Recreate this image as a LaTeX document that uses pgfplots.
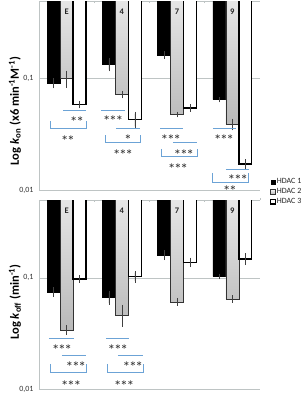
\documentclass[border=0pt]{standalone}
\usepackage{fontspec}
\setmainfont{Carlito}
\usepackage{pgfplots}
\pgfplotsset{compat=1.18}
\pgfplotsset{
  /pgfplots/ybar legend/.style={
    /pgfplots/legend image code/.code={\draw[##1,/tikz/.cd] (0pt,-2.2pt) rectangle (4.4pt,2.2pt);},
  },
}
\definecolor{sigblue}{RGB}{108,163,214}
\definecolor{axgray}{RGB}{190,196,196}
\newcommand{\one}{${\ast}$}
\newcommand{\two}{${\ast}\kern0.6pt{\ast}$}
\newcommand{\three}{${\ast}\kern0.6pt{\ast}\kern0.6pt{\ast}$}
\newcommand{\hl}[3]{\draw[sigline] (rel axis cs:#1,#3) -- (rel axis cs:#2,#3);}
\newcommand{\br}[4]{\draw[sigline] (rel axis cs:#1,#4) -- (rel axis cs:#1,#3) -- (rel axis cs:#2,#3) -- (rel axis cs:#2,#4);}
\newcommand{\sg}[3]{\node[sigtxt] at (rel axis cs:#1,#2) {#3};}
\tikzset{
  sigline/.style={sigblue, line width=0.9pt},
  sigtxt/.style={text=black!85, font=\fontsize{10}{10}\selectfont\boldmath, inner sep=0pt},
  cattxt/.style={font=\bfseries\fontsize{8.5}{9}\selectfont, text=black!85},
}
\begin{document}
\begin{tikzpicture}
\useasboundingbox (0,0) rectangle (303pt,394pt);
% ---------- top panel ----------
\begin{axis}[
  scale only axis, width=221pt, height=189pt, at={(39pt,204pt)}, anchor=south west,
  ymode=log, ymin=0.01, ymax=0.5,
  xmin=-0.5, xmax=3.5,
  ybar=0pt, bar width=0.235,
  clip mode=individual,
  axis line style={draw=none},
  xtick=\empty,
  ytick={0.01,0.1}, yticklabels={{0,01},{0,1}},
  ymajorgrids, grid style={axgray, line width=0.6pt},
  major tick style={draw=none}, minor tick style={draw=none},
  yticklabel style={font=\fontsize{8}{9}\selectfont, text=black!80, xshift=-2pt},
  ylabel={\bfseries Log \textit{k}\textsubscript{on} (x6 min\textsuperscript{-1}M\textsuperscript{-1})},
  every axis y label/.style={at={(axis description cs:-0.109,0.418)}, rotate=90, anchor=center, font=\fontsize{12.5}{13}\selectfont},
  legend entries={HDAC 1, HDAC 2, HDAC 3},
  legend cell align=left,
  legend style={draw=none, fill=none, font=\fontsize{8}{9}\selectfont, text=black!85,
    at={(axis description cs:1.045,0.066)}, anchor=north west, inner sep=0pt, row sep=1.2pt,
    nodes={inner sep=1pt}},
]
\draw[axgray, line width=0.6pt] (rel axis cs:0,0) -- (rel axis cs:1,0);
\draw[axgray, line width=0.6pt] (rel axis cs:0,0) -- (rel axis cs:0,1);
\draw[axgray, line width=0.6pt] (rel axis cs:0,1) -- (rel axis cs:1,1);
\draw[axgray, line width=0.6pt] (rel axis cs:0.25,1) -- ++(0pt,-2pt);
\draw[axgray, line width=0.6pt] (rel axis cs:0.5,1) -- ++(0pt,-2pt);
\draw[axgray, line width=0.6pt] (rel axis cs:0.75,1) -- ++(0pt,-2pt);
\addplot[fill=black, draw=black, line width=0.5pt,
  error bars/.cd, y dir=both, y explicit,
  error bar style={black!75, line width=0.45pt},
  error mark options={black!75, line width=0.45pt, mark size=1.8pt}] coordinates {
  (0,0.091) +- (0,0.006)
  (1,0.135) +- (0,0.014)
  (2,0.164) +- (0,0.007)
  (3,0.065) +- (0,0.0013)
};
\addplot[draw=black!80, line width=0.7pt, top color=gray!10, bottom color=gray!55,
  error bars/.cd, y dir=both, y explicit,
  error bar style={black!75, line width=0.45pt},
  error mark options={black!75, line width=0.45pt, mark size=1.8pt}] coordinates {
  (0,0.100) +- (0,0.014)
  (1,0.072) +- (0,0.003)
  (2,0.0477) +- (0,0.001)
  (3,0.0389) +- (0,0.0033)
};
\addplot[fill=white, draw=black, line width=1.3pt,
  error bars/.cd, y dir=both, y explicit,
  error bar style={black!75, line width=0.45pt},
  error mark options={black!75, line width=0.45pt, mark size=1.8pt}] coordinates {
  (0,0.0586) +- (0,0.0025)
  (1,0.043) +- (0,0.0056)
  (2,0.0547) +- (0,0.0023)
  (3,0.0171) +- (0,0.0011)
};
\node[cattxt] at (rel axis cs:0.125,0.943) {E};
\node[cattxt] at (rel axis cs:0.375,0.943) {4};
\node[cattxt] at (rel axis cs:0.625,0.943) {7};
\node[cattxt] at (rel axis cs:0.875,0.943) {9};
\hl{0.109}{0.213}{0.420} \sg{0.172}{0.376}{\two}
\br{0.050}{0.213}{0.328}{0.365} \sg{0.131}{0.275}{\two}
\hl{0.281}{0.389}{0.423} \sg{0.335}{0.381}{\three}
\hl{0.348}{0.457}{0.328} \sg{0.403}{0.280}{\one}
\br{0.299}{0.457}{0.249}{0.291} \sg{0.380}{0.201}{\three}
\hl{0.548}{0.652}{0.328} \sg{0.597}{0.280}{\three}
\hl{0.606}{0.715}{0.254} \sg{0.656}{0.201}{\three}
\br{0.552}{0.715}{0.175}{0.217} \sg{0.629}{0.127}{\three}
\hl{0.787}{0.891}{0.328} \sg{0.837}{0.280}{\three}
\hl{0.846}{0.950}{0.111} \sg{0.900}{0.069}{\three}
\br{0.787}{0.950}{0.042}{0.090} \sg{0.864}{0.011}{\two}
\end{axis}
% ---------- bottom panel ----------
\begin{axis}[
  scale only axis, width=221pt, height=189.3pt, at={(39pt,4.7pt)}, anchor=south west,
  ymode=log, ymin=0.01, ymax=0.5,
  xmin=-0.5, xmax=3.5,
  ybar=0pt, bar width=0.235,
  clip mode=individual,
  axis line style={draw=none},
  xtick=\empty,
  ytick={0.01,0.1}, yticklabels={{0,01},{0,1}},
  ymajorgrids, grid style={axgray, line width=0.6pt},
  major tick style={draw=none}, minor tick style={draw=none},
  yticklabel style={font=\fontsize{8}{9}\selectfont, text=black!80, xshift=-2pt},
  ylabel={\bfseries Log \textit{k}\textsubscript{off} (min\textsuperscript{-1})},
  every axis y label/.style={at={(axis description cs:-0.109,0.461)}, rotate=90, anchor=center, font=\fontsize{12.5}{13}\selectfont},
]
\draw[axgray, line width=0.6pt] (rel axis cs:0,0) -- (rel axis cs:1,0);
\draw[axgray, line width=0.6pt] (rel axis cs:0,0) -- (rel axis cs:0,1);
\draw[axgray, line width=0.6pt] (rel axis cs:0,1) -- (rel axis cs:1,1);
\draw[axgray, line width=0.6pt] (rel axis cs:0.25,1) -- ++(0pt,-2pt);
\draw[axgray, line width=0.6pt] (rel axis cs:0.5,1) -- ++(0pt,-2pt);
\draw[axgray, line width=0.6pt] (rel axis cs:0.75,1) -- ++(0pt,-2pt);
\draw[axgray, line width=0.6pt] (rel axis cs:1,1) -- ++(0pt,2pt);
\addplot[fill=black, draw=black, line width=0.5pt,
  error bars/.cd, y dir=both, y explicit,
  error bar style={black!75, line width=0.45pt},
  error mark options={black!75, line width=0.45pt, mark size=1.8pt}] coordinates {
  (0,0.0748) +- (0,0.0048)
  (1,0.0665) +- (0,0.0072)
  (2,0.160) +- (0,0.010)
  (3,0.1034) +- (0,0.002)
};
\addplot[draw=black!80, line width=0.7pt, top color=gray!10, bottom color=gray!55,
  error bars/.cd, y dir=both, y explicit,
  error bar style={black!75, line width=0.45pt},
  error mark options={black!75, line width=0.45pt, mark size=1.8pt}] coordinates {
  (0,0.034) +- (0,0.0022)
  (1,0.0464) +- (0,0.0087)
  (2,0.0608) +- (0,0.0025)
  (3,0.0647) +- (0,0.0027)
};
\addplot[fill=white, draw=black, line width=1.3pt,
  error bars/.cd, y dir=both, y explicit,
  error bar style={black!75, line width=0.45pt},
  error mark options={black!75, line width=0.45pt, mark size=1.8pt}] coordinates {
  (0,0.098) +- (0,0.004)
  (1,0.1027) +- (0,0.0088)
  (2,0.138) +- (0,0.0087)
  (3,0.148) +- (0,0.0127)
};
\node[cattxt] at (rel axis cs:0.125,0.943) {E};
\node[cattxt] at (rel axis cs:0.375,0.943) {4};
\node[cattxt] at (rel axis cs:0.625,0.943) {7};
\node[cattxt] at (rel axis cs:0.875,0.943) {9};
\hl{0.045}{0.158}{0.271} \sg{0.104}{0.223}{\three}
\hl{0.104}{0.213}{0.181} \sg{0.167}{0.134}{\three}
\br{0.050}{0.213}{0.091}{0.134} \sg{0.145}{0.033}{\three}
\hl{0.303}{0.407}{0.271} \sg{0.357}{0.223}{\three}
\hl{0.357}{0.471}{0.181} \sg{0.425}{0.134}{\three}
\br{0.308}{0.471}{0.091}{0.134} \sg{0.385}{0.033}{\three}
\end{axis}
\end{tikzpicture}
\end{document}
